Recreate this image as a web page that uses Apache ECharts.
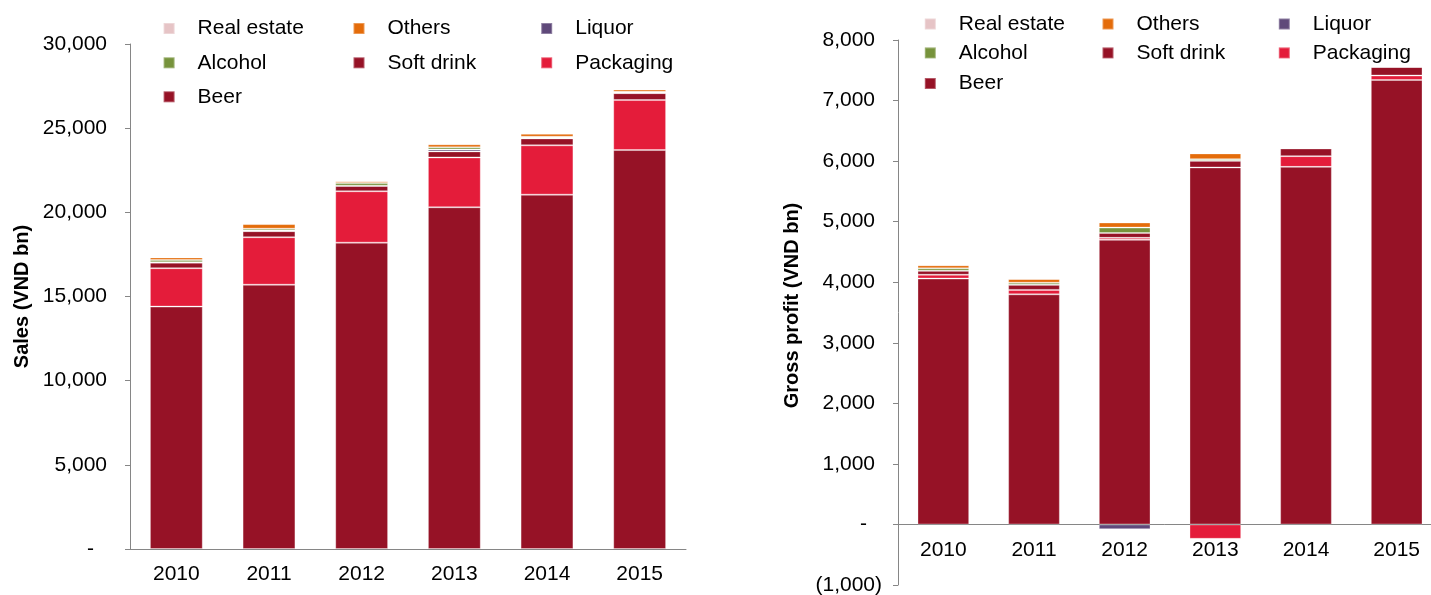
<!DOCTYPE html>
<html><head><meta charset="utf-8">
<script src="https://cdn.jsdelivr.net/npm/echarts@6/dist/echarts.min.js"></script>
<style>html,body{margin:0;padding:0;background:#fff}#c{width:1431px;height:595px}</style>
</head><body><div id="c"></div>
<script>
// ---- data ----
const years = ['2010', '2011', '2012', '2013', '2014', '2015'];
const seriesNames = ['Beer', 'Packaging', 'Soft drink', 'Liquor', 'Alcohol', 'Others', 'Real estate'];
const legendOrder = ['Real estate', 'Others', 'Liquor', 'Alcohol', 'Soft drink', 'Packaging', 'Beer'];

// Sales (VND bn)
const salesBeer       = [14400, 15700, 18200, 20300, 21050, 23700];
const salesPackaging  = [2280, 2820, 3050, 2960, 2930, 2970];
const salesSoftDrink  = [330, 360, 315, 360, 410, 410];
const salesLiquor     = [30, 40, 20, 110, 40, 30];
const salesAlcohol    = [130, 110, 160, 130, 60, 50];
const salesOthers     = [150, 270, 100, 180, 180, 130];
const salesRealEstate = [10, 10, 20, 10, 10, 10];

// Gross profit (VND bn)
const gpBeer       = [4060, 3800, 4700, 5895, 5905, 7340];
const gpPackaging  = [63, 73, 33, -237, 177, 73];
const gpSoftDrink  = [66, 84, 79, 110, 127, 142];
const gpLiquor     = [0, 0, -78, 0, 0, 0];
const gpAlcohol    = [40, 35, 90, 27, 0, 0];
const gpOthers     = [51, 61, 84, 95, 10, 10];
const gpRealEstate = [0, 0, 0, 0, 0, 0];

const salesAxis = { min: 0, max: 30000, interval: 5000 };
const gpAxis = { min: -1000, max: 8000, interval: 1000 };

// ---- styling ----
const colors = {
  'Beer': '#961226', 'Packaging': '#E41C3A', 'Soft drink': '#961226',
  'Liquor': '#5F497A', 'Alcohol': '#77933C', 'Others': '#E46C0A', 'Real estate': '#E6C4C6'
};
const FONT = 'Liberation Sans, Arial, sans-serif';
const salesData = [salesBeer, salesPackaging, salesSoftDrink, salesLiquor, salesAlcohol, salesOthers, salesRealEstate];
const gpData = [gpBeer, gpPackaging, gpSoftDrink, gpLiquor, gpAlcohol, gpOthers, gpRealEstate];

function fmt(v) {
  if (v === 0) return '{z|-}';
  const s = Math.abs(v).toLocaleString('en-US');
  return v < 0 ? '{n|(' + s + ')}' : '{p|' + s + '}';
}
const labelBase = { fontFamily: FONT, fontSize: 21, color: '#000' };
function labelRich(zeroPad) {
  return {
    p: Object.assign({ padding: [0, 7, 0, 0] }, labelBase),
    n: Object.assign({ padding: [0, 0, 0, 0] }, labelBase),
    z: Object.assign({ padding: [0, zeroPad, 0, 0] }, labelBase)
  };
}

const series = [];
function addSeries(stack, ai, data) {
  seriesNames.forEach((n, i) => {
    series.push({
      name: n, type: 'bar', stack: stack, xAxisIndex: ai, yAxisIndex: ai,
      data: data[i], barCategoryGap: '43%',
      itemStyle: { color: colors[n], borderColor: 'rgba(255,255,255,0.3)', borderWidth: 1 },
      emphasis: { disabled: true }
    });
  });
}
addSeries('sales', 0, salesData);
addSeries('gp', 1, gpData);

const legends = [];
function addLegends(cols, rows) {
  legendOrder.forEach((n, i) => {
    legends.push({
      data: [n], left: cols[i % 3], top: rows[Math.floor(i / 3)] - 11,
      itemWidth: 11, itemHeight: 11, icon: 'rect', selectedMode: false,
      padding: 0,
      textStyle: { fontFamily: FONT, fontSize: 21, color: '#000', padding: [0, 0, 0, 18] }
    });
  });
}
addLegends([162.6, 352.5, 540.2], [29, 63.3, 97.3]);
addLegends([923.8, 1101.5, 1277.8], [24.5, 53.4, 84]);

const axisLineStyle = { color: '#868686', width: 1 };
const xLabel = { show: true, interval: 0, fontFamily: FONT, fontSize: 21, color: '#000', margin: 15 };
function yAx(gi, ax, name, gap, zeroPad, namePad) {
  return {
    type: 'value', gridIndex: gi, min: ax.min, max: ax.max, interval: ax.interval,
    name: name, nameLocation: 'middle', nameGap: gap, nameRotate: 90,
    nameTextStyle: { fontFamily: FONT, fontSize: 20, fontWeight: 'bold', color: '#000', padding: namePad },
    axisLine: { show: true, lineStyle: axisLineStyle },
    axisTick: { show: true, length: 5, lineStyle: axisLineStyle },
    splitLine: { show: false },
    axisLabel: { margin: 16, formatter: fmt, rich: labelRich(zeroPad) }
  };
}

const gpGridHeight = 545;
// place label axis at the zero line of the gross-profit axis
const gpZeroOffset = -gpGridHeight * (0 - gpAxis.min) / (gpAxis.max - gpAxis.min);

const chart = echarts.init(document.getElementById('c'), null, { renderer: 'canvas' });
chart.setOption({
  animation: false,
  backgroundColor: '#fff',
  grid: [
    { left: 130, top: 44, width: 556, height: 505, outerBoundsMode: 'none' },
    { left: 898, top: 40, width: 544, height: gpGridHeight, outerBoundsMode: 'none' }
  ],
  legend: legends,
  xAxis: [
    { type: 'category', gridIndex: 0, data: years,
      axisLine: { show: true, lineStyle: axisLineStyle }, axisTick: { show: false }, axisLabel: xLabel },
    { type: 'category', gridIndex: 1, data: years,
      axisLine: { show: true, onZero: true, lineStyle: axisLineStyle }, axisTick: { show: false },
      axisLabel: { show: false } },
    { type: 'category', gridIndex: 1, data: years, position: 'bottom', offset: gpZeroOffset,
      axisLine: { show: false, onZero: false }, axisTick: { show: false }, axisLabel: xLabel }
  ],
  yAxis: [
    yAx(0, salesAxis, 'Sales (VND bn)', 98, 20, [0, 0, 0, 0]),
    yAx(1, gpAxis, 'Gross profit (VND bn)', 96, 15, [0, 0, 0, 14])
  ],
  series: series
});
</script>
</body></html>
